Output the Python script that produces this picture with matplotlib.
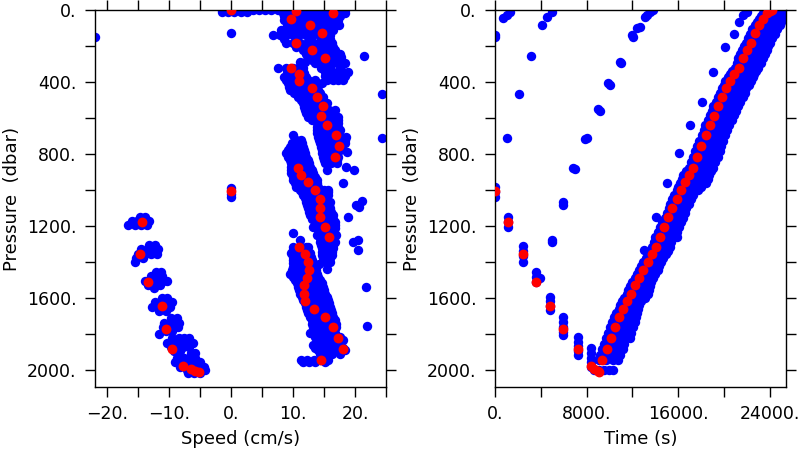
import matplotlib
matplotlib.use("Agg")
import matplotlib.pyplot as plt
from matplotlib.ticker import MultipleLocator, FuncFormatter

# ---------------- red profile (bin averages) ----------------
red_pressure = [1006, 1177, 1355, 1514, 1648, 1774, 1888, 1981, 1999, 2009, 2015,
                1947, 1885, 1826, 1764, 1710, 1662, 1618, 1577, 1531, 1490, 1446,
                1401, 1358, 1319, 1262, 1206, 1154, 1104, 1052, 1004, 957, 917, 879,
                817, 757, 696, 640, 588, 534, 486, 436, 397, 358, 323, 267, 223, 182,
                130, 83, 50, 15, 6, 0]
red_speed = [0, -14.4, -14.8, -13.4, -11.1, -10.6, -9.6, -7.8, -6.5, -5.9, -5.2,
             14.5, 18.0, 17.3, 16.4, 15.1, 13.3, 11.9, 11.7, 11.8, 12.3, 12.6,
             12.4, 11.9, 10.9, 15.8, 15.1, 14.3, 14.4, 14.3, 13.6, 12.4, 11.2, 10.8,
             16.8, 17.4, 17.0, 15.5, 14.5, 14.9, 13.9, 13.1, 11.0, 11.0, 9.6, 15.2, 13.1, 10.5,
             14.7, 12.7, 9.6, 16.5, 10.4, 0]
red_time = [0, 1164, 2414, 3578, 4829, 5963, 7214, 8350, 8668, 8960, 9060,
            9364, 9748, 10097, 10446, 10795, 11144, 11520, 11869, 12244, 12593, 12942,
            13326, 13675, 14050, 14425, 14775, 15124, 15473, 15857, 16206, 16581, 16930, 17280,
            17629, 18004, 18388, 18737, 19086, 19461, 19810, 20160, 20535, 20884, 21268, 21617, 21992, 22341,
            22690, 23066, 23415, 23764, 24000, 24200]

# ---------------- blue samples: speed panel (pressure, speeds) ----------------
speed_rows_surface = [
    (0, [-1.5, -0.5, 0.5, 1.5, 2.5, 3.5, 4.5, 5.5, 6.5, 7.5, 8.5, 9.5, 10.5, 11.5, 12.5,
         13.5, 14.5, 15.5, 16.5, 17.5, 18.3]),
    (12, [-1.5, -0.5, 0.5, 1.5, 2.5, 9.0, 10.0, 11.0, 12.0, 13.0, 14.0, 15.0, 16.0, 17.0, 18.0]),
]
speed_rows_upper = [
    (18, [8.4, 9.5, 10.6, 11.7, 12.8, 13.9, 15.0, 16.1, 17.2, 18.4]),
    (36, [8.5, 10.0, 11.5, 13.0, 14.5, 16.0, 17.5]),
    (55, [8.6, 9.7, 10.8, 11.9, 13.0, 14.1, 15.2, 16.2, 17.2]),
    (83, [9.0, 10.2, 11.4, 12.6, 13.8, 15.0, 16.2, 17.4]),
    (111, [8.1, 9.2, 10.3, 11.4, 12.5, 13.6, 14.7, 15.6, 16.4]),
    (139, [6.8, 7.8, 8.8, 9.9, 11.0, 12.1, 13.2, 14.3, 15.2, 15.9]),
    (162, [8.5, 10.5, 12.5, 14.5, 16.0]),
    (185, [8.9, 10.0, 11.1, 12.2, 13.3, 14.4, 15.4, 16.2]),
    (204, [10.5, 11.8, 13.0, 14.2, 15.3, 16.4]),
    (223, [11.6, 12.6, 13.7, 14.8, 15.8, 16.7]),
    (242, [12.0, 13.2, 14.4, 15.6, 16.8, 17.6]),
    (260, [12.7, 13.7, 14.8, 15.8, 16.8, 17.8]),
    (278, [13.0, 14.2, 15.4, 16.6, 17.8]),
    (297, [13.5, 14.5, 15.5, 16.5, 17.4, 18.3]),
    (320, [14.5, 16.0, 17.5]),
    (343, [15.1, 16.1, 17.1, 18.0, 18.9]),
    (365, [15.2, 16.3, 17.4, 18.3]),
    (390, [15.4, 16.4, 17.3, 18.1]),
]
speed_rows_mid = [
    (288, [11.1, 11.9]),
    (325, [7.6, 8.9, 9.9, 10.8, 11.6]),
    (348, [9.0, 10.5, 11.8]),
    (371, [8.6, 9.6, 10.6, 11.4, 12.1]),
    (390, [8.9, 10.0, 11.2, 12.4, 13.6]),
    (408, [9.2, 10.2, 11.2, 12.2, 13.2, 14.6]),
    (427, [9.3, 10.4, 11.6, 12.8, 13.8]),
    (445, [9.5, 10.5, 11.5, 12.4, 13.2, 14.0]),
    (463, [10.2, 11.3, 12.4, 13.5, 14.4]),
    (482, [10.8, 11.8, 12.8, 13.8, 14.8]),
    (500, [11.2, 12.3, 13.4, 14.6]),
    (519, [11.6, 12.6, 13.6, 14.5, 15.4]),
    (537, [11.8, 12.9, 14.0, 15.2]),
    (556, [11.9, 12.9, 13.9, 14.8, 15.8, 16.7]),
    (575, [12.1]),
    (594, [12.4, 13.4, 14.4, 15.4, 16.3, 17.2]),
    (612, [13.1, 14.2, 15.3, 16.4, 17.2]),
    (631, [13.8, 14.8, 15.8, 16.6, 17.2]),
    (650, [13.8, 14.9, 16.0, 17.2]),
    (668, [13.8, 14.8, 15.8, 16.7, 17.5]),
    (686, [13.9, 15.0, 16.1, 17.2]),
    (705, [14.0, 15.0, 16.0, 17.0, 17.8, 18.6]),
    (723, [14.2, 15.3, 16.4, 17.5, 18.4]),
    (742, [14.3, 15.3, 16.3, 17.3, 18.3]),
    (760, [14.5, 15.6, 16.7, 17.8]),
    (779, [14.6, 15.6, 16.6, 17.5]),
    (792, [18.7]),
    (797, [14.7, 15.8, 16.9]),
    (816, [14.8, 15.8, 16.6, 17.2]),
    (835, [15.0, 16.0, 17.1]),
    (853, [15.1, 16.1, 17.1]),
    (876, [18.6]),
    (890, [15.4, 19.9]),
    (965, [18.1]),
]
speed_rows_deep = [
    (696, [9.9]),
    (723, [10.5, 11.3]),
    (741, [9.8, 10.9, 11.4]),
    (760, [9.5, 10.5, 11.6]),
    (779, [9.2, 10.3, 11.4, 11.8]),
    (798, [8.9, 9.9, 10.9, 11.9]),
    (816, [9.2, 10.3, 11.4, 12.1]),
    (835, [9.5, 10.5, 11.5, 12.4]),
    (853, [9.6, 10.7, 11.8, 12.5]),
    (872, [9.7, 10.7, 11.7, 12.7]),
    (890, [9.7, 10.8, 11.9, 13.0]),
    (909, [9.7, 10.7, 11.7, 12.5, 13.2]),
    (927, [9.9, 11.0, 12.1, 13.5]),
    (946, [10.0, 11.0, 12.0, 13.0, 13.8]),
    (964, [10.3, 11.4, 12.5, 13.9]),
    (983, [10.5, 11.5, 12.5, 13.3, 14.0]),
    (1000, [11.1, 12.1, 13.1, 14.1, 15.0, 15.6]),
    (1015, [11.4, 12.5, 13.6, 14.7, 15.6]),
    (1030, [11.6, 12.6, 13.6, 14.6, 15.6]),
    (1048, [11.9, 13.0, 14.1, 15.2]),
    (1067, [12.1, 13.1, 14.1, 15.0, 15.9]),
    (1085, [12.3, 13.4, 14.5, 15.8]),
    (1104, [12.4, 13.4, 14.4, 15.2, 15.9]),
    (1122, [12.6, 13.7, 14.8, 16.1]),
    (1141, [12.7, 13.7, 14.7, 15.6, 16.4]),
    (1160, [13.1, 14.2, 15.3, 16.5]),
    (1178, [13.5, 14.5, 15.5, 16.2, 16.7]),
    (1196, [13.8, 14.9, 16.0, 16.7]),
    (1206, [13.2]),
    (1215, [14.0, 14.9, 15.8, 16.7]),
    (1234, [14.2, 15.3, 16.4]),
    (1252, [13.8, 14.3, 15.2, 16.1, 17.0]),
    (1270, [14.3, 15.4, 16.5]),
    (1289, [14.3, 15.2, 16.0, 16.7]),
    (1308, [14.5, 15.6, 16.5]),
    (1326, [14.6, 15.5, 16.4]),
    (1345, [14.6, 15.6, 16.3]),
    (1364, [14.6, 15.4, 16.2]),
    (1382, [14.9, 15.9]),
    (1401, [15.1, 15.9]),
    (1414, [14.2]),
    (1438, [15.5]),
]
speed_rows_bottom = [
    (1243, [10.0]),
    (1280, [11.1]),
    (1317, [10.0, 11.0, 12.0, 12.4]),
    (1335, [10.0, 11.1, 12.2]),
    (1354, [9.7, 10.7, 11.7, 12.7]),
    (1372, [9.9, 11.0, 12.1, 12.9]),
    (1391, [10.0, 11.0, 12.0, 13.0]),
    (1410, [10.0, 11.1, 12.2, 13.2]),
    (1428, [10.0, 11.0, 12.0, 12.8, 13.5]),
    (1447, [9.8, 10.9, 12.0, 13.1, 13.7]),
    (1466, [9.5, 10.5, 11.5, 12.5, 13.2, 13.8]),
    (1485, [9.9, 11.0, 12.1, 13.2, 14.0]),
    (1503, [10.3, 11.3, 12.3, 13.3, 14.3]),
    (1521, [10.6, 11.7, 12.8, 13.9, 14.6]),
    (1540, [10.8, 11.8, 12.8, 13.8, 14.8]),
    (1558, [11.0, 12.1, 13.2, 14.3, 15.0]),
    (1577, [11.1, 12.1, 13.1, 14.1, 15.1]),
    (1595, [11.4, 12.5, 13.6, 14.7, 15.4]),
    (1614, [11.6, 12.6, 13.6, 14.6, 15.6]),
    (1632, [11.9, 13.0, 14.1, 15.2, 15.8]),
    (1651, [12.1, 13.1, 14.1, 15.0, 15.9]),
    (1670, [12.3, 13.4, 14.5, 15.6, 16.1]),
    (1688, [12.4, 13.4, 14.4, 15.3, 16.2]),
    (1706, [12.7, 13.8, 14.9, 16.0, 16.5]),
    (1725, [13.0, 14.0, 15.0, 15.9, 16.7]),
    (1744, [13.1, 14.2, 15.3, 16.4, 16.9]),
    (1762, [13.2, 14.2, 15.2, 16.1, 17.0]),
    (1780, [13.4, 14.5, 15.6, 16.6]),
    (1799, [12.7, 13.5, 14.5, 15.5, 16.7]),
    (1818, [13.6, 14.7, 15.8, 16.9, 17.6]),
    (1837, [13.8, 14.8, 15.8, 16.8, 18.1]),
    (1865, [13.2, 14.2, 15.2, 16.4, 17.5]),
    (1880, [13.6, 14.7, 15.8, 17.0, 18.0]),
    (1892, [14.0, 15.0, 16.0, 17.0, 18.3]),
    (1911, [14.3, 15.3, 16.3, 17.5]),
    (1948, [11.3, 12.3, 13.3, 14.3, 15.6]),
    (1957, [11.6, 12.6, 13.6, 15.1]),
]
speed_rows_descent = [
    (1150, [-14.8, -14.0]),
    (1175, [-16.0, -15.2, -14.2, -13.3]),
    (1196, [-16.6, -15.6, -14.6, -13.6]),
    (1305, [-13.3, -12.3]),
    (1330, [-14.5, -13.5, -12.5, -11.8]),
    (1356, [-15.0, -14.0, -13.0, -12.0]),
    (1380, [-15.3, -14.3]),
    (1400, [-15.5]),
    (1455, [-12.2, -11.4]),
    (1480, [-13.0, -12.0, -11.2]),
    (1505, [-14.0, -13.0, -12.0, -11.0, -10.3]),
    (1530, [-13.5, -12.5, -11.5]),
    (1545, [-12.5]),
    (1600, [-11.2, -10.3]),
    (1625, [-12.3, -11.3, -10.3, -9.6]),
    (1650, [-12.8, -11.8, -10.8, -9.9]),
    (1672, [-11.6, -10.6]),
    (1715, [-9.8, -8.8]),
    (1740, [-10.8, -9.8, -8.8, -8.5]),
    (1765, [-11.0, -10.0, -9.0, -8.6]),
    (1785, [-10.5, -9.5]),
    (1800, [-11.6]),
    (1825, [-9.5, -8.5, -7.6, -6.8]),
    (1850, [-10.3, -9.3, -8.3, -7.3, -6.2]),
    (1875, [-9.8, -8.8, -7.8, -6.8]),
    (1895, [-9.3, -8.3]),
    (1910, [-6.5, -5.9]),
    (1935, [-8.7, -7.7, -6.7, -5.8]),
    (1960, [-9.0, -8.0, -7.0, -6.0, -5.0]),
    (1985, [-8.2, -7.2, -6.2, -5.2, -4.4]),
    (2005, [-7.2, -6.2, -5.2, -4.2]),
    (2018, [-7.0, -6.0, -5.0]),
]
speed_outliers_p = [149, 130, 256, 469, 714, 990, 1025, 1040, 1150, 1085, 1095, 1063,
                    1289, 1280, 1336, 1540, 1759]
speed_outliers_v = [-22.0, 0.0, 21.5, 24.4, 24.4, 0.0, 0.0, 0.0, 18.8, 20.2, 20.7, 21.2,
                    19.7, 20.5, 20.4, 21.7, 21.9]

# ---------------- blue samples: time panel (pressure, times) ----------------
time_rows_ascent = [
    (2003, [8600, 9050, 9500, 9950, 10300]),
    (1948, [9100, 9700, 10300, 10750]),
    (1918, [9200, 9800, 10400, 10950]),
    (1887, [9350, 9900, 10500, 11150]),
    (1856, [9500, 10100, 10700, 11300]),
    (1824, [9650, 10250, 10850, 11400, 11750]),
    (1795, [9850, 10400, 11000, 11550, 11900]),
    (1766, [10050, 10600, 11150, 11650, 12050]),
    (1738, [10200, 10750, 11300, 11800, 12200]),
    (1710, [10350, 10900, 11450, 11950, 12350]),
    (1686, [10550, 11100, 11650, 12150, 12400]),
    (1662, [10800, 11350, 11900, 12450]),
    (1641, [10950, 11500, 12050, 12600]),
    (1620, [11100, 11650, 12200, 12750]),
    (1600, [11300, 11850, 12400, 12950, 13050]),
    (1579, [11500, 12050, 12600, 13100, 13350]),
    (1557, [11650, 12200, 12750, 13300, 13450]),
    (1534, [11800, 12350, 12950, 13500]),
    (1512, [12000, 12550, 13150, 13650]),
    (1490, [12250, 12800, 13350, 13800]),
    (1468, [12400, 12950, 13500, 14000]),
    (1445, [12550, 13100, 13650, 14200]),
    (1423, [12750, 13300, 13850, 14350]),
    (1401, [12950, 13500, 14050, 14500]),
    (1380, [13150, 13700, 14250, 14700]),
    (1358, [13400, 13950, 14500, 14950]),
    (1339, [13550, 14100, 14650, 15100]),
    (1319, [13700, 14250, 14800, 15250]),
    (1290, [13850, 14400, 14950, 15400]),
    (1262, [14000, 14550, 15100, 15600, 15850]),
    (1234, [14200, 14750, 15300, 15850]),
    (1206, [14400, 14950, 15500, 16100]),
    (1181, [14600, 15150, 15700, 16250]),
    (1156, [14850, 15400, 15950, 16400]),
    (1130, [15000, 15550, 16100, 16550]),
    (1104, [15150, 15700, 16250, 16700]),
    (1078, [15300, 15850, 16400, 16900]),
    (1052, [15450, 16000, 16550, 17100]),
    (1028, [15650, 16200, 16750, 17300]),
    (1004, [15850, 16400, 16950, 17450, 17700]),
    (982, [16000, 16550, 17100, 17600, 18000]),
    (961, [16150, 16700, 17250, 17800, 18400]),
    (940, [16300, 16850, 17400, 17950, 18550]),
    (920, [16450, 17000, 17550, 18100, 18700]),
    (898, [16650, 17200, 17750, 18300, 18850]),
    (877, [16900, 17450, 18000, 18550, 19000]),
    (847, [17100, 17650, 18200, 18750, 19200]),
    (818, [17300, 17850, 18400, 18950, 19450]),
    (787, [17450, 18000, 18550, 19100, 19600]),
    (757, [17600, 18150, 18700, 19250, 19750]),
    (726, [17800, 18350, 18900, 19450, 19900]),
    (696, [18050, 18600, 19150, 19650, 20050]),
    (668, [18200, 18750, 19300, 19850, 20250]),
    (640, [18350, 18900, 19450, 20000, 20450]),
    (613, [18550, 19100, 19650, 20200, 20650]),
    (586, [18750, 19300, 19850, 20400, 20900]),
    (560, [18900, 19450, 20000, 20550, 21050]),
    (534, [19050, 19600, 20150, 20700, 21200]),
    (509, [19250, 19800, 20350, 20900, 21400]),
    (484, [19500, 20050, 20600, 21150, 21650]),
    (460, [19650, 20200, 20750, 21300, 21800]),
    (436, [19800, 20350, 20900, 21450, 21950]),
    (415, [19950, 20500, 21050, 21600, 22150]),
    (395, [20100, 20650, 21200, 21750, 22350]),
    (375, [20300, 20850, 21400, 21950, 22500]),
    (356, [20500, 21050, 21600, 22150, 22650]),
    (338, [20700, 21250, 21800, 22350, 22800]),
    (321, [20950, 21500, 22050, 22600, 22950]),
    (294, [21100, 21650, 22200, 22750, 23200]),
    (267, [21250, 21800, 22350, 22900, 23400]),
    (245, [21400, 21950, 22500, 23050, 23550]),
    (223, [21550, 22100, 22650, 23200, 23700]),
    (203, [21750, 22300, 22850, 23400, 23850]),
    (184, [21950, 22500, 23050, 23550, 24000]),
    (158, [22100, 22650, 23200, 23750, 24200]),
    (132, [22250, 22800, 23350, 23900, 24400]),
    (108, [22450, 23000, 23550, 24100, 24600]),
    (85, [22700, 23250, 23800, 24350, 24850]),
    (66, [22850, 23400, 23950, 24500, 25000]),
    (48, [23000, 23550, 24100, 24650, 25150]),
    (31, [23200, 23750, 24300, 24850, 25300]),
    (15, [23400, 23950, 24500, 25050, 25400]),
    (0, [23800, 24350, 24900, 25400]),
]
time_cols_descent = [
    (0, [983, 1010, 1040]),
    (1163, [1150, 1180, 1205]),
    (2414, [1310, 1340, 1370, 1400]),
    (3578, [1456, 1485, 1515]),
    (3927, [1493]),
    (4829, [1595, 1620, 1645, 1669]),
    (5963, [1706, 1735, 1765, 1790, 1808]),
    (7214, [1817, 1845, 1870, 1895, 1919]),
    (8350, [1882, 1910, 1935, 1960, 1984]),
]
time_stray_t = [0, 0, 727, 1018, 1309,
                1076, 2094, 3112, 4072, 4509, 4945,
                5003, 5003, 5963, 5963, 6981, 6836, 8000, 7854, 9018, 9164, 10036, 9890,
                10996, 10909, 12072, 11927, 12654, 12421, 13236, 13090, 13527, 13818,
                13003, 14021, 15040, 16028, 17017, 18036, 19054, 20072, 20858, 21323, 21672, 22021]
time_stray_p = [139, 148, 46, 28, 9,
                714, 469, 256, 83, 37, 9,
                1279, 1289, 1067, 1085, 887, 880, 714, 720, 553, 560, 417, 408,
                297, 288, 148, 139, 93, 102, 28, 37, 9, 0,
                1336, 1150, 965, 794, 640, 510, 343, 206, 133, 68, 28, 9]

# ---------------- unpack ----------------
def unpack_rows(rows):
    xs, ps = [], []
    for p, vals in rows:
        for v in vals:
            xs.append(v)
            ps.append(p)
    return xs, ps

blue_speed, blue_sp_p = [], []
for rows in (speed_rows_surface, speed_rows_upper, speed_rows_mid, speed_rows_deep,
             speed_rows_bottom, speed_rows_descent):
    xs, ps = unpack_rows(rows)
    blue_speed += xs
    blue_sp_p += ps
blue_speed += speed_outliers_v
blue_sp_p += speed_outliers_p

blue_time, blue_t_p = unpack_rows(time_rows_ascent)
for t, ps in time_cols_descent:
    for p in ps:
        blue_time.append(t)
        blue_t_p.append(p)
blue_time += time_stray_t
blue_t_p += time_stray_p

# ---------------- figure ----------------
plt.rcParams['font.family'] = ['DejaVu Sans']
fig = plt.figure(figsize=(8, 4.5), dpi=100)
ax1 = fig.add_axes([95 / 800, 63 / 450, 291 / 800, 377 / 450])
ax2 = fig.add_axes([495 / 800, 63 / 450, 291 / 800, 377 / 450])

BLUE = '#0000ff'
RED = '#ff0000'
S_BLUE = 46
S_RED = 50


def dotfmt(v, pos):
    s = f"{int(round(v))}."
    return s.replace('-', '\u2212')


for ax in (ax1, ax2):
    ax.set_ylim(2097, 0)
    ax.yaxis.set_major_locator(MultipleLocator(400))
    ax.yaxis.set_minor_locator(MultipleLocator(200))
    ax.yaxis.set_major_formatter(FuncFormatter(dotfmt))
    ax.xaxis.set_major_formatter(FuncFormatter(dotfmt))
    ax.tick_params(which='both', direction='out', top=True, right=True,
                   length=7.2, width=1.0, labelsize=12.5, pad=6)
    for sp in ax.spines.values():
        sp.set_linewidth(1.0)
    ax.set_ylabel('Pressure  (dbar)', fontsize=13)
    ax.yaxis.set_label_coords(-0.255, 0.5)

ax1.scatter(blue_speed, blue_sp_p, s=S_BLUE, c=BLUE, linewidths=0, zorder=2)
ax1.scatter(red_speed, red_pressure, s=S_RED, c=RED, linewidths=0, zorder=3)
ax1.set_xlim(-22, 25)
ax1.xaxis.set_major_locator(MultipleLocator(10))
ax1.xaxis.set_minor_locator(MultipleLocator(5))
ax1.set_xlabel('Speed (cm/s)', fontsize=13)
ax1.xaxis.set_label_coords(0.5, -0.113)

ax2.scatter(blue_time, blue_t_p, s=S_BLUE, c=BLUE, linewidths=0, zorder=2)
ax2.scatter(red_time, red_pressure, s=S_RED, c=RED, linewidths=0, zorder=3)
ax2.set_xlim(0, 25400)
ax2.xaxis.set_major_locator(MultipleLocator(8000))
ax2.xaxis.set_minor_locator(MultipleLocator(4000))
ax2.set_xlabel('Time (s)', fontsize=13)
ax2.xaxis.set_label_coords(0.5, -0.113)

fig.savefig('out.png', dpi=100)
